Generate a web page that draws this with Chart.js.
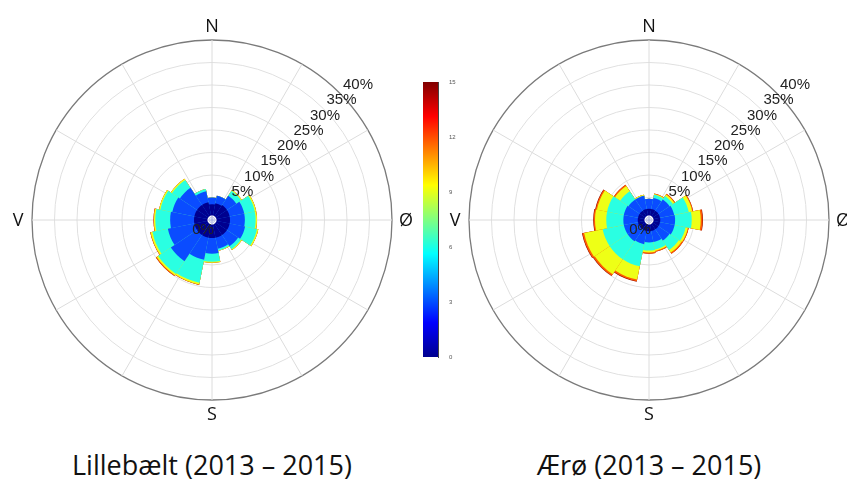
<!DOCTYPE html>
<html>
<head>
<meta charset="utf-8">
<script src="https://cdn.jsdelivr.net/npm/chart.js@4.4.1/dist/chart.umd.min.js"></script>
<style>
  body { margin: 0; background: #fff; overflow: hidden; width: 847px; height: 479px; position: relative; }
  canvas { position: absolute; }
  .ttl { position: absolute; top: 446px; width: 420px; text-align: center; line-height: 38px;
         font-family: 'Open Sans', sans-serif; font-size: 27px; color: #111; }
</style>
</head>
<body>
<canvas id="roseL" width="424" height="440" style="left:0;top:0"></canvas>
<canvas id="roseR" width="417" height="440" style="left:430px;top:0"></canvas>
<canvas id="cbar" width="50" height="300" style="left:415px;top:70px"></canvas>
<div class="ttl" style="left:2px">Lillebælt (2013 – 2015)</div>
<div class="ttl" style="left:439px">Ærø (2013 – 2015)</div>
<script>
// sectors, clockwise from north
const directions = ['N', 'NNØ', 'NØ', 'ØNØ', 'Ø', 'ØSØ', 'SØ', 'SSØ', 'S', 'SSV', 'SV', 'VSV', 'V', 'VNV', 'NV', 'NNV'];
const speedBins = ['0–3', '3–6', '6–9', '9–12', '12–15', '>15'];
const binColors = ['#00008f', '#0a4cff', '#2affe2', '#eeff16', '#ff5a00', '#8a0000'];
const ringTicks = [0, 5, 10, 15, 20, 25, 30, 35, 40];
const compass = ['N', 'Ø', 'S', 'V'];
const cbarTicks = [0, 3, 6, 9, 12, 15];
const holeSize = 1;

// frequency (%) per speed bin, per sector
const lb0_3   = [3.5, 3.8, 4.0, 4.0, 4.0, 4.0, 4.0, 4.0, 4.0, 4.0, 4.0, 4.0, 4.0, 4.0, 4.0, 4.0];
const lb3_6   = [1.5, 1.7, 2.5, 3.3, 3.3, 3.5, 3.0, 2.5, 3.5, 5.0, 7.0, 6.0, 5.3, 5.0, 4.6, 2.5];
const lb6_9   = [0.0, 0.0, 1.3, 2.4, 2.4, 2.7, 0.8, 0.4, 1.8, 5.2, 3.4, 3.5, 3.3, 2.7, 2.1, 0.5];
const lb9_12  = [0.0, 0.0, 0.2, 0.3, 0.3, 0.3, 0.2, 0.1, 0.2, 0.4, 0.4, 0.4, 0.3, 0.3, 0.3, 0.0];
const lb12_15 = [0.0, 0.0, 0.0, 0.0, 0.0, 0.0, 0.0, 0.0, 0.0, 0.1, 0.2, 0.1, 0.1, 0.0, 0.0, 0.0];
const lb15    = [0, 0, 0, 0, 0, 0, 0, 0, 0, 0, 0, 0, 0, 0, 0, 0];

const ae0_3   = [2.5, 2.5, 2.5, 2.5, 2.5, 2.5, 2.5, 2.5, 2.5, 2.5, 2.5, 2.5, 2.5, 2.5, 2.5, 2.5];
const ae3_6   = [2.2, 2.5, 3.0, 3.2, 3.3, 3.3, 3.0, 2.5, 2.5, 3.0, 3.2, 3.2, 3.2, 3.2, 3.0, 3.0];
const ae6_9   = [0.0, 0.7, 0.9, 3.3, 3.7, 2.5, 2.5, 1.7, 1.8, 5.0, 4.8, 4.8, 3.8, 3.8, 2.2, 0.0];
const ae9_12  = [0.0, 0.2, 0.4, 0.8, 2.0, 0.5, 0.7, 0.3, 0.4, 3.0, 4.0, 4.2, 2.5, 2.3, 1.4, 0.2];
const ae12_15 = [0.0, 0.1, 0.2, 0.2, 0.4, 0.2, 0.3, 0.2, 0.3, 0.4, 0.4, 0.4, 0.3, 0.3, 0.3, 0.0];
const ae15    = [0, 0, 0, 0, 0.1, 0, 0, 0, 0, 0.1, 0.1, 0.1, 0.1, 0.1, 0, 0];

function roseDatasets(bins) {
  // stacked look: cumulative sums; Chart.js paints the last dataset first,
  // so the hole goes first and the outermost bin last
  const sets = [{ label: 'hul', data: directions.map(() => holeSize), backgroundColor: '#fff', borderWidth: 0 }];
  let run = directions.map(() => 0);
  bins.forEach((b, i) => {
    run = run.map((v, k) => v + b[k]);
    sets.push({ label: speedBins[i], data: run.slice(), backgroundColor: binColors[i], borderWidth: 0 });
  });
  return sets;
}

const roseDecor = {
  id: 'roseDecor',
  beforeDatasetsDraw(chart) {
    const s = chart.scales.r, ctx = chart.ctx;
    ctx.save();
    ctx.strokeStyle = '#dcdcdc';
    ctx.lineWidth = 1;
    for (let a = 0; a < 360; a += 30) {
      const t = (a - 90) * Math.PI / 180;
      ctx.beginPath();
      ctx.moveTo(s.xCenter, s.yCenter);
      ctx.lineTo(s.xCenter + s.drawingArea * Math.cos(t), s.yCenter + s.drawingArea * Math.sin(t));
      ctx.stroke();
    }
    ctx.restore();
  },
  afterDatasetsDraw(chart) {
    const s = chart.scales.r, ctx = chart.ctx;
    ctx.save();
    ctx.fillStyle = '#222';
    ctx.font = '15px "Liberation Sans", Arial, sans-serif';
    ctx.textAlign = 'center';
    ctx.textBaseline = 'middle';
    const t = -42.8 * Math.PI / 180;
    ringTicks.forEach(v => {
      if (v === 0) {
        ctx.fillText('0%', s.xCenter - 9, s.yCenter + 10);
        return;
      }
      const d = s.getDistanceFromCenterForValue(v) + 19;
      ctx.fillText(v + '%', s.xCenter + d * Math.cos(t), s.yCenter + d * Math.sin(t));
    });
    ctx.fillStyle = '#111';
    ctx.font = '18px "Open Sans", sans-serif';
    const off = s.drawingArea + 14;
    compass.forEach((c, i) => {
      const a = (i * 90 - 90) * Math.PI / 180;
      ctx.fillText(c, s.xCenter + off * Math.cos(a), s.yCenter + off * Math.sin(a) + 1);
    });
    ctx.restore();
  }
};

function makeRose(id, bins, pad) {
  new Chart(document.getElementById(id), {
    type: 'polarArea',
    data: { labels: directions, datasets: roseDatasets(bins) },
    options: {
      responsive: false,
      animation: false,
      layout: { padding: pad },
      plugins: { legend: { display: false }, tooltip: { enabled: false } },
      scales: {
        r: {
          min: 0,
          max: 40,
          startAngle: -11.25,
          ticks: { display: false, stepSize: 5 },
          afterBuildTicks: sc => { sc.ticks = ringTicks.map(v => ({ value: v })); },
          angleLines: { display: false },
          pointLabels: { display: false },
          grid: {
            circular: true,
            color: c => c.tick && c.tick.value === 40 ? '#7a7a7a' : '#e0e0e0',
            lineWidth: c => c.tick && c.tick.value === 40 ? 1.3 : 1
          }
        }
      }
    },
    plugins: [roseDecor]
  });
}

makeRose('roseL', [lb0_3, lb3_6, lb6_9, lb9_12, lb12_15, lb15], { left: 32, right: 32, top: 40, bottom: 40 });
makeRose('roseR', [ae0_3, ae3_6, ae6_9, ae9_12, ae12_15, ae15], { left: 39, right: 18, top: 40, bottom: 40 });

// colour bar
const jetStops = ['#00008f', '#0000ff', '#0080ff', '#00ffff', '#80ff80', '#ffff00', '#ff8000', '#ff0000', '#800000'];
new Chart(document.getElementById('cbar'), {
  type: 'bar',
  data: {
    labels: [''],
    datasets: [{
      data: [15],
      borderWidth: 0,
      barPercentage: 1,
      categoryPercentage: 1,
      backgroundColor: c => {
        const a = c.chart.chartArea;
        if (!a) return '#888';
        const g = c.chart.ctx.createLinearGradient(0, a.bottom, 0, a.top);
        jetStops.forEach((col, i) => g.addColorStop(i / (jetStops.length - 1), col));
        return g;
      }
    }]
  },
  options: {
    responsive: false,
    animation: false,
    layout: { padding: { left: 8, right: 7, top: 12, bottom: 13 } },
    plugins: { legend: { display: false }, tooltip: { enabled: false } },
    scales: {
      x: { display: false },
      y: {
        position: 'right',
        min: 0,
        max: 15,
        afterBuildTicks: sc => { sc.ticks = cbarTicks.map(v => ({ value: v })); },
        afterFit: sc => { sc.width = 20; },
        border: { display: true, color: '#444' },
        grid: { display: false },
        ticks: { font: { size: 6 }, color: '#555', padding: 3 }
      }
    }
  }
});
</script>
</body>
</html>
